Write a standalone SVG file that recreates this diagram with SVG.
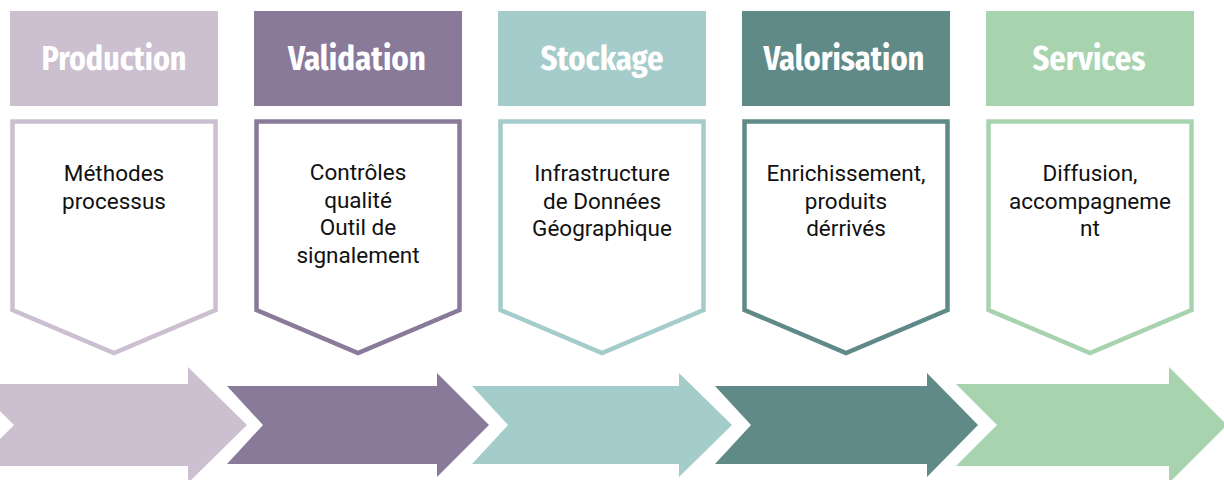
<svg xmlns="http://www.w3.org/2000/svg" width="1224" height="480" viewBox="0 0 1224 480">
  <style>
    .hd { font-family: "Fira Sans Condensed", "Roboto Condensed", Roboto, "Liberation Sans", sans-serif; font-weight: 700; font-size: 34px; fill: #ffffff; text-anchor: middle; }
    .bd { font-family: Roboto, "Liberation Sans", sans-serif; font-size: 22.5px; fill: #111111; text-anchor: middle; }
    .pent { fill: #ffffff; stroke-width: 4.5; stroke-linejoin: miter; }
    .c1 { fill: #CBBFD0; } .s1 { stroke: #CBBFD0; }
    .c2 { fill: #8A7A9A; } .s2 { stroke: #8A7A9A; }
    .c3 { fill: #A4CCCA; } .s3 { stroke: #A4CCCA; }
    .c4 { fill: #5F8A87; } .s4 { stroke: #5F8A87; }
    .c5 { fill: #A8D3AF; } .s5 { stroke: #A8D3AF; }
  </style>
  <rect width="1224" height="480" fill="#ffffff"/>

  <g id="production">
    <rect class="c1" x="10" y="11" width="208" height="95"/>
    <text class="hd" x="114" y="70" textLength="145" lengthAdjust="spacingAndGlyphs">Production</text>
    <path class="pent s1" d="M12.5,121.5 H215.5 V310 L114,353 L12.5,310 Z"/>
    <text class="bd" x="114" y="181">Méthodes</text>
    <text class="bd" x="114" y="208.5">processus</text>
  </g>

  <g id="validation">
    <rect class="c2" x="254" y="11" width="208" height="95"/>
    <text class="hd" x="357" y="70" textLength="138" lengthAdjust="spacingAndGlyphs">Validation</text>
    <path class="pent s2" d="M256.5,121.5 H459.5 V310 L358,353 L256.5,310 Z"/>
    <text class="bd" x="358" y="180">Contrôles</text>
    <text class="bd" x="358" y="207.5">qualité</text>
    <text class="bd" x="358" y="235">Outil de</text>
    <text class="bd" x="358" y="262.5">signalement</text>
  </g>

  <g id="stockage">
    <rect class="c3" x="498" y="11" width="208" height="95"/>
    <text class="hd" x="602" y="70" textLength="123" lengthAdjust="spacingAndGlyphs">Stockage</text>
    <path class="pent s3" d="M500.5,121.5 H703.5 V310 L602,353 L500.5,310 Z"/>
    <text class="bd" x="602" y="181">Infrastructure</text>
    <text class="bd" x="602" y="208.5">de Données</text>
    <text class="bd" x="602" y="236">Géographique</text>
  </g>

  <g id="valorisation">
    <rect class="c4" x="742" y="11" width="208" height="95"/>
    <text class="hd" x="844" y="70" textLength="161" lengthAdjust="spacingAndGlyphs">Valorisation</text>
    <path class="pent s4" d="M744.5,121.5 H947.5 V310 L846,353 L744.5,310 Z"/>
    <text class="bd" x="846" y="181">Enrichissement,</text>
    <text class="bd" x="846" y="208.5">produits</text>
    <text class="bd" x="846" y="236">dérrivés</text>
  </g>

  <g id="services">
    <rect class="c5" x="986" y="11" width="208" height="95"/>
    <text class="hd" x="1089" y="70" textLength="113" lengthAdjust="spacingAndGlyphs">Services</text>
    <path class="pent s5" d="M988.5,121.5 H1191.5 V310 L1090,353 L988.5,310 Z"/>
    <text class="bd" x="1090" y="181">Diffusion,</text>
    <text class="bd" x="1090" y="208.5">accompagneme</text>
    <text class="bd" x="1090" y="236">nt</text>
  </g>

  <g id="connectors">
    <polygon class="c1" points="-27,384 188,384 188,367 247,425 188,483 188,466 -27,466 14,425"/>
    <polygon class="c2" points="227,386 437,386 437,373 489,425 437,477 437,464 227,464 263,425"/>
    <polygon class="c3" points="472,386 679,386 679,373 732,425 679,477 679,464 472,464 508,425"/>
    <polygon class="c4" points="715,386 927,386 927,373 978,425 927,477 927,464 715,464 751,425"/>
    <polygon class="c5" points="956,384 1169,384 1169,367 1227,425 1169,483 1169,466 956,466 997,425"/>
  </g>
</svg>
